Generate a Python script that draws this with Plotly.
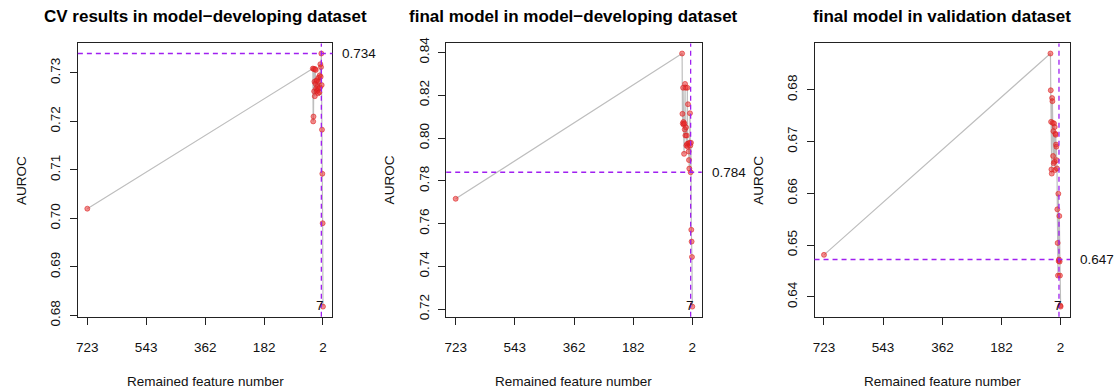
import plotly.graph_objects as go

# ---------------- data ----------------
features = [723, 33, 32, 31, 30, 29, 28, 27, 26, 25, 24, 23, 22, 21, 20, 19, 18,
            17, 16, 15, 14, 13, 12, 11, 10, 9, 8, 7, 6, 5, 4, 3, 2]

auc_cv = [0.7020, 0.7309, 0.7200, 0.7210, 0.7308, 0.7262, 0.7282, 0.7252, 0.7308,
          0.7278, 0.7306, 0.7268, 0.7284, 0.7262, 0.7285, 0.7272, 0.7264, 0.7258,
          0.7290, 0.7268, 0.7282, 0.7260, 0.7295, 0.7270, 0.7318, 0.7292, 0.7312,
          0.7340, 0.7275, 0.7183, 0.7092, 0.6990, 0.6818]

auc_dev = [0.7716, 0.8395, 0.8113, 0.8068, 0.8235, 0.8075, 0.8062, 0.7926, 0.8068,
           0.8040, 0.8253, 0.8012, 0.8235, 0.8050, 0.7965, 0.8012, 0.7972, 0.8235,
           0.7960, 0.8158, 0.7975, 0.7937, 0.7897, 0.7857, 0.7978, 0.8116, 0.7965,
           0.7840, 0.7978, 0.7571, 0.7516, 0.7444, 0.7212]

auc_val = [0.6481, 0.6870, 0.6799, 0.6738, 0.6646, 0.6638, 0.6784, 0.6778, 0.6736,
           0.6672, 0.6720, 0.6658, 0.6735, 0.6661, 0.6728, 0.6645, 0.6715, 0.6713,
           0.6694, 0.6690, 0.6664, 0.6648, 0.6569, 0.6504, 0.6441, 0.6599, 0.6469,
           0.6472, 0.6556, 0.6468, 0.6441, 0.6383, 0.6381]

titles = ["CV results in model\u2212developing dataset",
          "final model in model\u2212developing dataset",
          "final model in validation dataset"]
x_tick_vals = [723, 543, 362, 182, 2]
x_tick_text = ["723", "543", "362", "182", "2"]
y_dticks = [0.01, 0.02, 0.01]
best_n = 7
best_labels = ["0.734", "0.784", "0.647"]

# ---------------- layout ----------------
W, H = 1115, 391
box_left = [76, 445, 814]
box_right = [331, 701, 1070]
box_top, box_bottom = 39, 324
FONT = "Liberation Sans, Arial, Helvetica, sans-serif"
PURPLE = "#A020F0"
FS = 13.5

fig = go.Figure()
series = [auc_cv, auc_dev, auc_val]

xmin, xmax = min(features), max(features)
xpad = (xmax - xmin) * 0.04
annotations = []
shapes = []

for i, ys in enumerate(series):
    k = "" if i == 0 else str(i + 1)
    xa, ya = "x" + k, "y" + k
    fig.add_trace(go.Scatter(
        x=features, y=ys, mode="lines", xaxis=xa, yaxis=ya,
        line=dict(color="#BEBEBE", width=1.2), hoverinfo="skip", showlegend=False))
    fig.add_trace(go.Scatter(
        x=features, y=ys, mode="markers", xaxis=xa, yaxis=ya,
        marker=dict(size=5, color="rgba(235,45,45,0.55)",
                    line=dict(width=0.8, color="rgba(215,30,30,0.7)")),
        showlegend=False))

    ymin, ymax = min(ys), max(ys)
    ypad = (ymax - ymin) * 0.04
    best_y = ys[features.index(best_n)]

    axis_common = dict(showline=True, mirror=True, linecolor="#222", linewidth=1,
                       ticks="outside", ticklen=7, tickwidth=1, tickcolor="#222",
                       showgrid=False, zeroline=False,
                       tickfont=dict(family=FONT, size=FS, color="#111"))
    fig.layout["xaxis" + k] = dict(
        domain=[box_left[i] / W, box_right[i] / W], anchor=ya,
        range=[xmax + xpad, xmin - xpad], tickmode="array",
        tickvals=x_tick_vals, ticktext=x_tick_text, ticklabelstandoff=11,
        **axis_common)
    fig.layout["yaxis" + k] = dict(
        domain=[1 - box_bottom / H, 1 - box_top / H], anchor=xa,
        range=[ymin - ypad, ymax + ypad], dtick=y_dticks[i], tick0=0,
        tickformat=".2f", tickangle=-90, ticklabelstandoff=4,
        **axis_common)

    # dashed reference lines
    shapes.append(dict(type="line", xref=xa + " domain", yref=ya,
                       x0=0, x1=1, y0=best_y, y1=best_y,
                       line=dict(color=PURPLE, width=1.3, dash="5px,4px")))
    shapes.append(dict(type="line", xref=xa, yref=ya + " domain",
                       x0=best_n, x1=best_n, y0=0, y1=1,
                       line=dict(color=PURPLE, width=1.3, dash="5px,4px")))

    # labels
    annotations.append(dict(text=best_labels[i], xref="paper", yref=ya,
                            x=(box_right[i] + 8) / W, y=best_y, xanchor="left",
                            yanchor="middle", showarrow=False,
                            font=dict(family=FONT, size=FS, color="#111")))
    annotations.append(dict(text=str(best_n), xref=xa, yref=ya, x=best_n, y=ymin,
                            xanchor="center", yanchor="middle", showarrow=False,
                            xshift=-1, yshift=1,
                            font=dict(family=FONT, size=FS, color="#111")))
    annotations.append(dict(text="<b>" + titles[i] + "</b>", xref="paper", yref="paper",
                            x=(box_left[i] + box_right[i]) / 2 / W, y=1 - 11 / H,
                            xanchor="center", yanchor="middle", showarrow=False,
                            font=dict(family=FONT, size=17, color="#000")))
    annotations.append(dict(text="AUROC", xref="paper", yref="paper",
                            x=(box_left[i] - 57) / W, y=1 - 181.5 / H, textangle=-90,
                            xanchor="center", yanchor="middle", showarrow=False,
                            font=dict(family=FONT, size=FS, color="#111")))
    annotations.append(dict(text="Remained feature number", xref="paper", yref="paper",
                            x=(box_left[i] + box_right[i]) / 2 / W, y=1 - 391 / H,
                            xanchor="center", yanchor="middle", showarrow=False,
                            font=dict(family=FONT, size=FS, color="#111")))

fig.update_layout(width=W, height=H, margin=dict(l=0, r=0, t=0, b=0),
                  paper_bgcolor="white", plot_bgcolor="white",
                  annotations=annotations, shapes=shapes, showlegend=False,
                  font=dict(family=FONT))
fig.write_html("out.html")
